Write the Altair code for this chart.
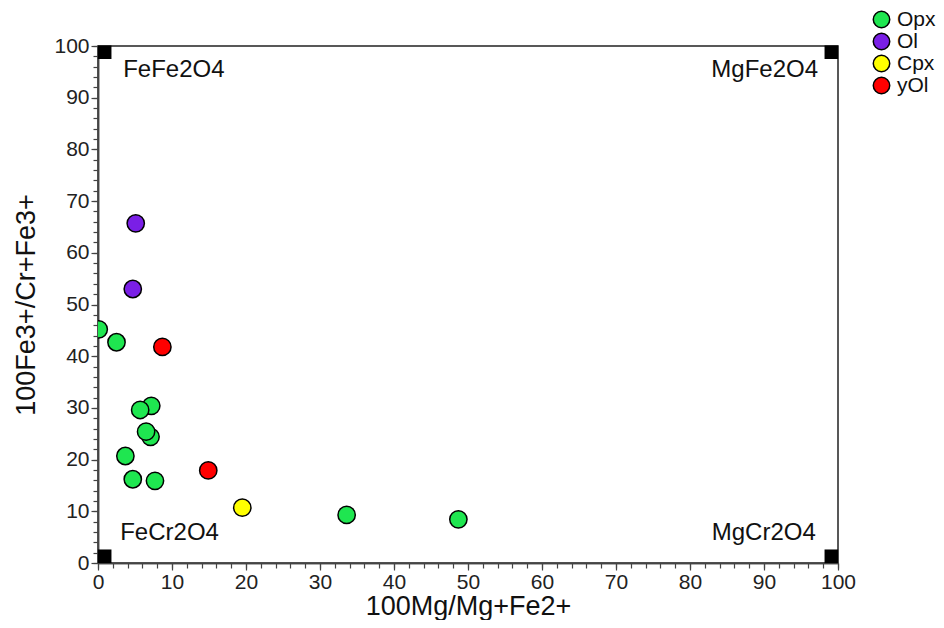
import altair as alt
import pandas as pd

# ---- data ----
mineral = ["Ol", "Ol", "Opx", "Opx", "yOl", "Opx", "Opx", "Opx", "Opx", "Opx",
           "Opx", "Opx", "yOl", "Cpx", "Opx", "Opx"]
mg_ratio = [5.1, 4.7, 0.1, 2.5, 8.7, 7.2, 5.7, 7.1, 6.5, 3.7,
            4.7, 7.7, 14.9, 19.5, 33.6, 48.7]
fe3_ratio = [65.7, 53.0, 45.2, 42.7, 41.8, 30.4, 29.6, 24.4, 25.4, 20.7,
             16.2, 15.9, 17.9, 10.7, 9.3, 8.45]

legend_order = ["Opx", "Ol", "Cpx", "yOl"]
legend_colors = ["#1fe650", "#7a1fe6", "#ffff00", "#ff0000"]

left_names = ["FeFe2O4", "FeCr2O4"]
left_x = [3.4, 3.0]
left_y = [95.3, 5.8]
right_names = ["MgFe2O4", "MgCr2O4"]
right_x = [97.3, 97.0]
right_y = [95.3, 5.8]
corner_sq_x = [0.9, 99.1, 0.9, 99.1]
corner_sq_y = [98.8, 98.8, 1.3, 1.3]

major_ticks = list(range(0, 101, 10))
minor_ticks = list(range(0, 101, 2))

FONT = "Liberation Sans"
AX = "#444444"

pts = pd.DataFrame({"mineral": mineral, "mg": mg_ratio, "fe3": fe3_ratio,
                    "order": list(range(len(mineral)))})
sq = pd.DataFrame({"sx": corner_sq_x, "sy": corner_sq_y})
ldf = pd.DataFrame({"name": left_names, "lx": left_x, "ly": left_y})
rdf = pd.DataFrame({"name": right_names, "lx": right_x, "ly": right_y})

xscale = alt.Scale(domain=[0, 100], nice=False, zero=False)
yscale = alt.Scale(domain=[0, 100], nice=False, zero=False)

minor_x = alt.Axis(values=minor_ticks, labels=False, tickSize=5, title=None, orient="bottom",
                   domainColor=AX, tickColor=AX, grid=False, domainWidth=1.5, tickWidth=1.2)
minor_y = alt.Axis(values=minor_ticks, labels=False, tickSize=5, title=None, orient="left",
                   domainColor=AX, tickColor=AX, grid=False, domainWidth=1.5, tickWidth=1.2)

major_x = alt.Axis(values=major_ticks, tickSize=7, orient="bottom", title="100Mg/Mg+Fe2+",
                   labelFontSize=21, labelFont=FONT, labelColor="#222", labelPadding=1,
                   titleFontSize=27, titleFont=FONT, titleFontWeight="normal", titleColor="#111",
                   titlePadding=1, domainColor=AX, tickColor=AX, grid=False,
                   domainWidth=1.5, tickWidth=1.2, labelFlush=False)
major_y = alt.Axis(values=major_ticks, tickSize=7, orient="left", title="100Fe3+/Cr+Fe3+",
                   labelFontSize=21, labelFont=FONT, labelColor="#222", labelPadding=2,
                   titleFontSize=27, titleFont=FONT, titleFontWeight="normal", titleColor="#111",
                   titlePadding=13, domainColor=AX, tickColor=AX, grid=False,
                   domainWidth=1.5, tickWidth=1.2, labelFlush=False)

squares = alt.Chart(sq).mark_square(color="black", size=185, opacity=1).encode(
    x=alt.X("sx:Q", scale=xscale, axis=minor_x),
    y=alt.Y("sy:Q", scale=yscale, axis=minor_y),
)

labels_l = alt.Chart(ldf).mark_text(font=FONT, fontSize=24, color="#111", baseline="middle",
                                    align="left").encode(
    x=alt.X("lx:Q", scale=xscale, axis=None),
    y=alt.Y("ly:Q", scale=yscale, axis=None),
    text="name:N",
)
labels_r = alt.Chart(rdf).mark_text(font=FONT, fontSize=24, color="#111", baseline="middle",
                                    align="right").encode(
    x=alt.X("lx:Q", scale=xscale, axis=None),
    y=alt.Y("ly:Q", scale=yscale, axis=None),
    text="name:N",
)

points = alt.Chart(pts).mark_point(filled=True, shape="circle", size=300, stroke="black",
                                   strokeWidth=1.5, opacity=1, fillOpacity=1, clip=True).encode(
    x=alt.X("mg:Q", scale=xscale, axis=major_x),
    y=alt.Y("fe3:Q", scale=yscale, axis=major_y),
    fill=alt.Fill("mineral:N", scale=alt.Scale(domain=legend_order, range=legend_colors),
                  legend=alt.Legend(title=None, orient="none", legendX=773, legendY=-37,
                                    labelFont=FONT, labelFontSize=21, labelColor="#111",
                                    symbolSize=270, symbolStrokeColor="black",
                                    symbolStrokeWidth=1.5, symbolType="circle",
                                    symbolOpacity=1,
                                    rowPadding=-2, labelOffset=5)),
    order=alt.Order("order:Q"),
)

chart = alt.layer(squares, labels_l, labels_r, points).resolve_axis(
    x="independent", y="independent"
).properties(
    width=740, height=517,
    autosize=alt.AutoSizeParams(type="none"),
    padding={"left": 90, "top": 38, "right": 98, "bottom": 57},
    background="white",
).configure_view(stroke="#222", strokeWidth=1.5)

chart.save("out.html", embed_options={"renderer": "svg", "actions": False})
